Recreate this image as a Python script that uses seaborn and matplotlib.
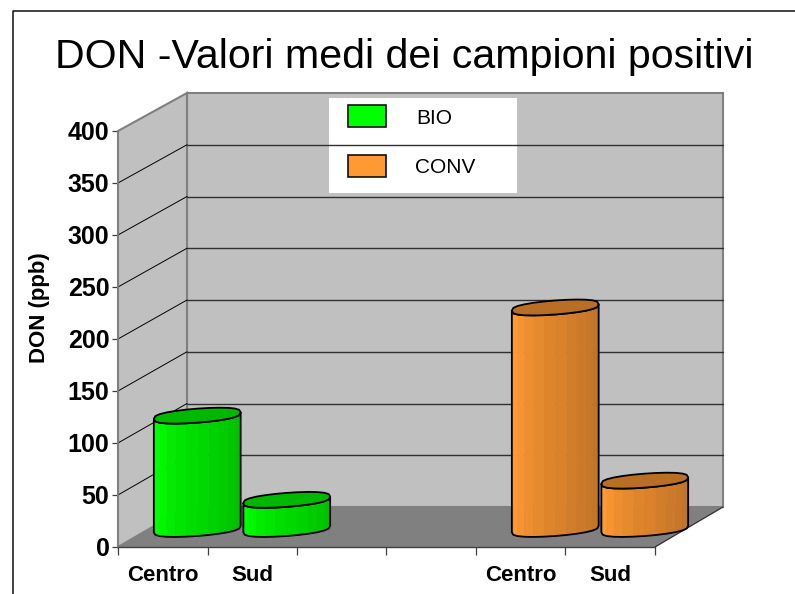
#!/usr/bin/env python3
"""DON - mean values of positive samples, faked 3D cylinder chart."""

import numpy as np
import pandas as pd
import matplotlib
matplotlib.use("Agg")
import matplotlib.pyplot as plt
from matplotlib.patches import Polygon, Rectangle
import seaborn as sns

# Data
slots = ["BIO Centro", "BIO Sud", "gap a", "gap b", "CONV Centro", "CONV Sud"]
groups = ["BIO", "BIO", "CONV", "CONV"]
zones = ["Centro", "Sud", "Centro", "Sud"]
don_ppb = [109, 28, 213, 46.5]
y_ticks = [0, 50, 100, 150, 200, 250, 300, 350, 400]

GREEN = "#00FF00"
ORANGE = "#FF9933"
W, H = 795, 594

# Pixel geometry of the fake 3D box
FRONT_L, FRONT_R, FRONT_T, FRONT_B = 118, 655, 131, 547
BACK_L, BACK_R, BACK_T, BACK_B = 187, 723, 93, 507
OFF_X, OFF_Y = 34.5, 18  # bars stand half way into the depth
PX_PER_PPB = (FRONT_B - FRONT_T) / 400
CAP_B = 7.0 / PX_PER_PPB  # half height of the cylinder ends, in ppb
SHEAR = 3.25 / PX_PER_PPB  # ends tilt up to the right

sns.set_theme(style="white")
plt.rcParams["font.family"] = ["Liberation Sans", "DejaVu Sans"]


def px_axes(fig, left, right, top, bottom, **kw):
    return fig.add_axes([left / W, 1 - bottom / H, (right - left) / W, (bottom - top) / H], **kw)


def draw_box(ax):
    """Walls, floor, gridlines, frame, title and legend in pixel coordinates."""
    ax.set_xlim(0, W)
    ax.set_ylim(H, 0)
    ax.axis("off")

    ax.add_patch(Polygon([(BACK_L, BACK_T), (BACK_R, BACK_T), (BACK_R, BACK_B), (BACK_L, BACK_B)],
                         fc="#C0C0C0", ec="#808080", lw=1.5))
    ax.add_patch(Polygon([(FRONT_L, FRONT_T), (BACK_L, BACK_T), (BACK_L, BACK_B), (FRONT_L, FRONT_B)],
                         fc="#C0C0C0", ec="#808080", lw=1.5))
    ax.add_patch(Polygon([(FRONT_L, FRONT_B), (FRONT_R, FRONT_B), (BACK_R, BACK_B), (BACK_L, BACK_B)],
                         fc="#808080", ec="none"))
    ax.plot([FRONT_R, BACK_R], [FRONT_B, BACK_B], color="#303030", lw=0.9)

    for v in y_ticks[1:-1]:
        yb = BACK_B - v * (BACK_B - BACK_T) / 400
        yf = FRONT_B - v * PX_PER_PPB
        ax.plot([BACK_L, BACK_R], [yb, yb], color="#303030", lw=1.0)
        ax.plot([FRONT_L, BACK_L], [yf, yb], color="black", lw=0.7)

    # outer frame, runs off the picture on the right and at the bottom
    ax.plot([W, 12.5, 12.5], [11, 11, H], color="#101010", lw=1.1)

    ax.text(404, 68, "DON -Valori medi dei campioni positivi", ha="center", va="baseline",
            fontsize=29.6, color="black")
    ax.text(40, 308, "DON (ppb)", rotation=90, ha="center", va="center",
            fontsize=16, fontweight="bold", color="black")

    # legend
    ax.add_patch(Rectangle((329, 98), 188, 95, fc="white", ec="none"))
    ax.add_patch(Rectangle((348, 105), 38, 22, fc=GREEN, ec="#101010", lw=1.2))
    ax.add_patch(Rectangle((348, 155), 38, 22, fc=ORANGE, ec="#101010", lw=1.2))
    ax.text(416, 118.5, "BIO", ha="left", va="center", fontsize=15, color="black")
    ax.text(414.5, 167.5, "CONV", ha="left", va="center", fontsize=15, color="black")


def format_front_axis(ax):
    """Value axis and category ticks sit on the front plane of the box."""
    ax.set_xlim(-0.5, len(slots) - 0.5)
    ax.set_ylim(0, 400)
    ax.patch.set_alpha(0)
    for side in ["top", "right"]:
        ax.spines[side].set_visible(False)
    ax.spines["left"].set_color("#808080")
    ax.spines["left"].set_linewidth(1.3)
    ax.spines["bottom"].set_color("#404040")
    ax.spines["bottom"].set_linewidth(1.0)

    ax.set_yticks(y_ticks)
    ax.set_yticklabels([str(v) for v in y_ticks], fontsize=18, fontweight="bold", color="black")
    ax.tick_params(axis="y", left=True, length=4.5, width=0.9, color="#404040", pad=1.7)

    ax.set_xticks(np.arange(-0.5, len(slots)))
    ax.set_xticklabels([])
    ax.tick_params(axis="x", which="major", bottom=True, length=6, width=0.9, color="#404040")
    ax.set_xticks([slots.index(f"{g} {z}") for g, z in zip(groups, zones)], minor=True)
    ax.set_xticklabels(zones, minor=True, fontsize=16, fontweight="bold", color="black")
    ax.tick_params(axis="x", which="minor", bottom=False, length=0, pad=13)
    ax.set_xlabel("")
    ax.set_ylabel("")


def draw_cylinders(ax):
    """Turn the seaborn bars into faceted cylinders."""
    shades = [0.93, 1.0, 0.97, 0.93, 0.9, 0.87, 0.85, 0.82, 0.8, 0.78, 0.76, 0.74]
    theta = np.linspace(np.pi, 0, len(shades) + 1)
    # squarer than a true ellipse, the original ends are blobby
    bulge = np.abs(np.sin(theta)) ** 0.7
    for bar in list(ax.patches):
        height = bar.get_height()
        if not height or np.isnan(height):
            continue
        bar.set_visible(False)
        xc = bar.get_x() + bar.get_width() / 2
        a = bar.get_width() / 2
        rgb = np.array(bar.get_facecolor()[:3])

        u = np.cos(theta)
        xs = xc + a * u
        lower = SHEAR * u - CAP_B * bulge
        upper = SHEAR * u + CAP_B * bulge
        for i, shade in enumerate(shades):
            quad = [(xs[i], lower[i]), (xs[i + 1], lower[i + 1]),
                    (xs[i + 1], height + lower[i + 1]), (xs[i], height + lower[i])]
            ax.add_patch(Polygon(quad, fc=rgb * shade, ec=rgb * shade, lw=0.3, zorder=3, clip_on=False))

        outline = list(zip(xs, lower)) + list(zip(xs[::-1], height + lower[::-1]))
        ax.add_patch(Polygon(outline, fill=False, ec="black", lw=1.3, joinstyle="round", zorder=4, clip_on=False))

        cap = list(zip(xs, height + lower)) + list(zip(xs[::-1], height + upper[::-1]))
        ax.add_patch(Polygon(cap, fc=rgb * 0.72, ec="black", lw=1.3, joinstyle="round", zorder=5, clip_on=False))


def main():
    df = pd.DataFrame({"slot": [f"{g} {z}" for g, z in zip(groups, zones)],
                       "gruppo": groups, "don": don_ppb})

    fig = plt.figure(figsize=(W / 100, H / 100), dpi=100, facecolor="white")

    bg_ax = fig.add_axes([0, 0, 1, 1], zorder=0)
    draw_box(bg_ax)

    front_ax = px_axes(fig, FRONT_L, FRONT_R, FRONT_T, FRONT_B, zorder=1)
    format_front_axis(front_ax)

    bar_ax = px_axes(fig, FRONT_L + OFF_X, FRONT_R + OFF_X, FRONT_T - OFF_Y, FRONT_B - OFF_Y, zorder=2)
    sns.barplot(data=df, x="slot", y="don", hue="gruppo", order=slots, dodge=False, width=0.97,
                saturation=1, palette={"BIO": GREEN, "CONV": ORANGE}, legend=False, ax=bar_ax)
    bar_ax.set_xlim(-0.5, len(slots) - 0.5)
    bar_ax.set_ylim(0, 400)
    bar_ax.axis("off")
    draw_cylinders(bar_ax)

    fig.savefig("out.png", dpi=100)
    plt.close(fig)


if __name__ == "__main__":
    main()
